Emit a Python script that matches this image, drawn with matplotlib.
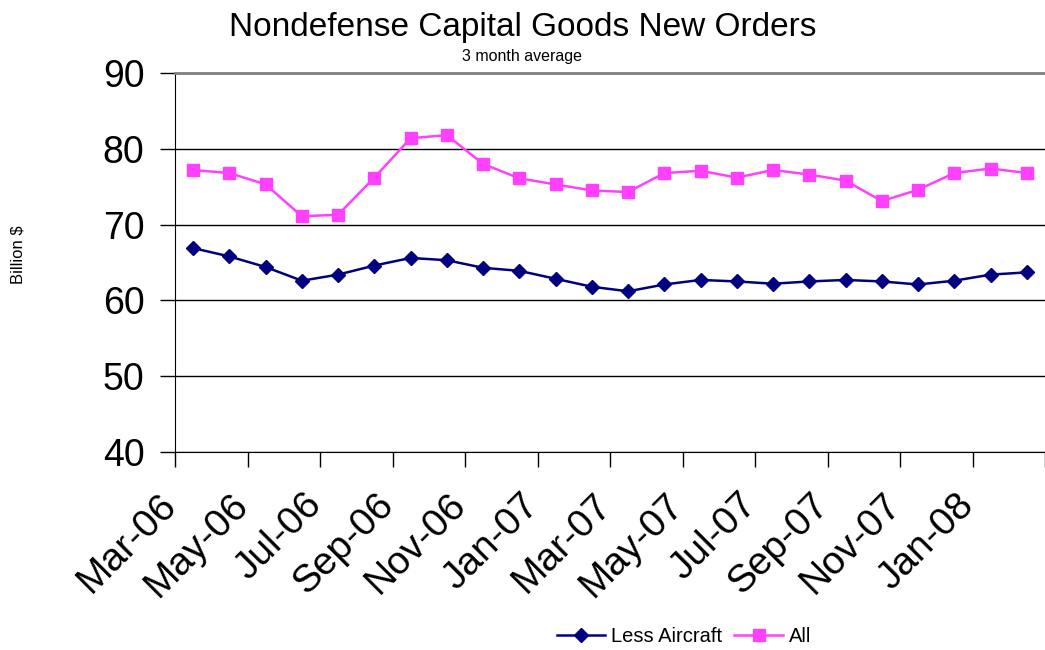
import numpy as np
import matplotlib.pyplot as plt
import matplotlib.transforms as mtransforms

plt.rcParams['font.family'] = ['Liberation Sans', 'DejaVu Sans']

# months Mar-06 .. Feb-08
months = ["Mar-06", "Apr-06", "May-06", "Jun-06", "Jul-06", "Aug-06", "Sep-06", "Oct-06",
          "Nov-06", "Dec-06", "Jan-07", "Feb-07", "Mar-07", "Apr-07", "May-07", "Jun-07",
          "Jul-07", "Aug-07", "Sep-07", "Oct-07", "Nov-07", "Dec-07", "Jan-08", "Feb-08"]

less_aircraft = [66.9, 65.8, 64.4, 62.6, 63.4, 64.6, 65.6, 65.3, 64.3, 63.9, 62.85, 61.8,
                 61.2, 62.1, 62.7, 62.5, 62.2, 62.5, 62.7, 62.5, 62.1, 62.6, 63.4, 63.7]
all_orders = [77.2, 76.8, 75.3, 71.1, 71.3, 76.2, 81.4, 81.8, 78.0, 76.1, 75.3, 74.5,
              74.3, 76.8, 77.1, 76.2, 77.2, 76.6, 75.8, 73.1, 74.6, 76.8, 77.4, 76.8]

yticks = [40, 50, 60, 70, 80, 90]

fig = plt.figure(figsize=(10.45, 6.5), dpi=100)
ax = fig.add_axes([175/1045, 198/650, 870/1045, 379/650])

x = np.arange(len(months))
ax.plot(x, less_aircraft, color="#000080", marker="D", markersize=7, lw=1.8,
        label="Less Aircraft")
ax.plot(x, all_orders, color="#FF40FF", marker="s", markersize=9, lw=1.8,
        label="All")

ax.set_xlim(-0.5, len(months) - 0.5)
ax.set_ylim(40, 90)
ax.set_yticks(yticks)
ax.yaxis.grid(True, color="black", lw=1)
ax.set_axisbelow(True)

# category ticks between months, labels every 2nd month
ax.set_xticks(np.arange(-0.5, len(months), 2))
ax.set_xticklabels([])
ax.set_xticks(x[::2], minor=True)
ax.set_xticklabels(months[::2], minor=True, rotation=45, ha="right",
                   rotation_mode="anchor", fontsize=28)
ax.tick_params(axis="x", which="minor", length=0, pad=25)
ax.tick_params(axis="x", which="major", length=11, direction="out", width=1)
ax.tick_params(axis="y", length=11, width=1, labelsize=27, pad=11)

# shift the slanted labels left a bit
shift = mtransforms.ScaledTranslation(-0.35, 0, fig.dpi_scale_trans)
for lab in ax.get_xticklabels(minor=True):
    lab.set_transform(lab.get_transform() + shift)

for s in ["left", "bottom"]:
    ax.spines[s].set_color("black")
ax.spines["top"].set_color("#808080")
ax.spines["top"].set_linewidth(2)
ax.spines["right"].set_visible(False)

fig.text(0.5, 0.957, "Nondefense Capital Goods New Orders", ha="center", va="center",
         fontsize=24)
fig.text(0.5, 0.913, "3 month average", ha="center", va="center", fontsize=11.5)
fig.text(18/1045, 1 - 255/650, "Billion $", rotation=90, ha="center", va="center",
         fontsize=12)

fig.legend(loc="center", bbox_to_anchor=(684/1045, 1 - 637/650), ncol=2, frameon=False,
           fontsize=14.5, handlelength=2.4, columnspacing=0.6, handletextpad=0.3)

fig.savefig("out.png", dpi=100)
